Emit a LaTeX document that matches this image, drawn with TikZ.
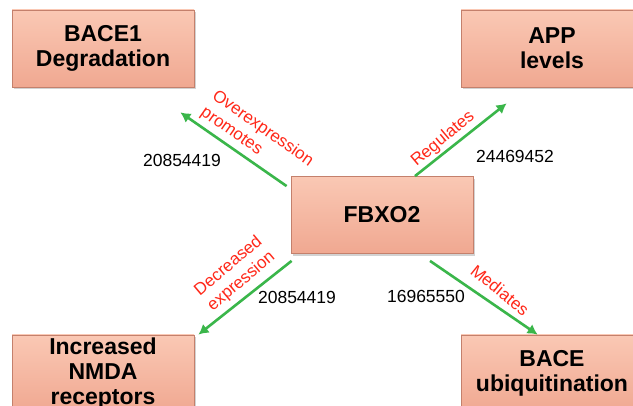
\documentclass[tikz,border=0pt]{standalone}
\usepackage{fontspec}
\setmainfont{Liberation Sans}
\usetikzlibrary{arrows.meta,shadows,calc}
\definecolor{boxtop}{RGB}{250,200,180}
\definecolor{boxbot}{RGB}{240,168,145}
\definecolor{boxline}{RGB}{196,128,108}
\definecolor{arrowgreen}{RGB}{58,182,74}
\definecolor{labelred}{RGB}{255,40,25}
\tikzset{
  genebox/.style={rectangle, minimum width=182pt, minimum height=77pt, inner sep=0pt,
    top color=boxtop, bottom color=boxbot, draw=boxline, line width=0.8pt,
    align=center, font=\fontsize{23}{25}\selectfont\bfseries,
    drop shadow={shadow xshift=2pt, shadow yshift=-2.5pt, opacity=0.35}},
  relarrow/.style={draw=arrowgreen, line width=2.6pt, -{Latex[length=10pt,width=11pt]}},
  rellabel/.style={text=labelred, font=\fontsize{17}{20}\selectfont, align=left, inner sep=0pt},
  pmid/.style={text=black, font=\fontsize{17.5}{20}\selectfont, inner sep=0pt}
}
\begin{document}
\begin{tikzpicture}[x=1pt,y=-1pt]
\useasboundingbox (0,0) rectangle (633,406);
\clip (0,0) rectangle (633,406);
\fill[white] (0,0) rectangle (633,406);
% boxes
\node[genebox] (bace1) at (103,48.5) {BACE1\\Degradation};
\node[genebox] (app)   at (552,48.5) {APP\\levels};
\node[genebox] (fbxo)  at (382,215) {FBXO2};
\node[genebox] (nmda)  at (103,373.5) {Increased\\NMDA\\receptors};
\node[genebox] (ubiq)  at (552,373.5) {BACE\\ubiquitination};
% arrow end points
\coordinate (t1) at ($(fbxo.north west)+(-4,10)$);
\coordinate (h1) at ($(bace1.south east)+(-14,25)$);
\coordinate (t2) at ($(fbxo.north)+(33,0)$);
\coordinate (h2) at ($(app.south west)+(46,16)$);
\coordinate (t3) at ($(fbxo.south west)+(1,7)$);
\coordinate (h3) at ($(nmda.north east)+(4,0)$);
\coordinate (t4) at ($(fbxo.south)+(48,7)$);
\coordinate (h4) at ($(ubiq.north west)+(77,0)$);
\draw[relarrow] (t1) -- (h1);
\draw[relarrow] (t2) -- (h2);
\draw[relarrow] (t3) -- (h3);
\draw[relarrow] (t4) -- (h4);
% labels
\node[rellabel, rotate=-35] (l1) at (257,137) {Overexpression\\promotes};
\node[rellabel, rotate=40]  (l2) at (443,139) {Regulates};
\node[rellabel, rotate=40]  (l3) at (235,274) {Decreased\\expression};
\node[rellabel, rotate=-39] (l4) at (500,290) {Mediates};
% PMIDs
\node[pmid] (p1) at (182,160) {20854419};
\node[pmid] (p2) at (515,156) {24469452};
\node[pmid] (p3) at (297,297) {20854419};
\node[pmid] (p4) at (426,296) {16965550};
\end{tikzpicture}
\end{document}
